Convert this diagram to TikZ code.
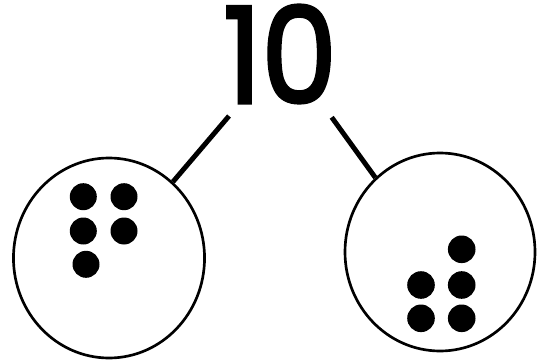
\documentclass[tikz,border=0pt]{standalone}
\usepackage{fontspec}
\setmainfont{Poppins}
\newfontfamily\numfont{Poppins}[FakeBold=2.5,FakeStretch=0.9]
\usetikzlibrary{shapes.geometric}

\begin{document}
\begin{tikzpicture}[x=0.75pt,y=-0.75pt,
  part/.style={draw,ellipse,line width=2pt,inner sep=0pt},
  bond/.style={line width=3.7pt},
  counter/.style={fill=black}]
\useasboundingbox (0,0) rectangle (538,363);
% whole number on top
\node[inner sep=0pt,font=\numfont\fontsize{100}{100}\selectfont] (whole) at (280,54) {10};
% the two parts
\node[part,minimum width=143.3pt,minimum height=150pt] (lpart) at (109,258) {};
\node[part,minimum width=142.5pt,minimum height=148.5pt] (rpart) at (440,252) {};
\coordinate (ltop) at (229,116);
\coordinate (rtop) at (331.7,117.3);
\draw[bond] (ltop) -- (lpart.50);
\draw[bond] (rtop) -- (rpart.131);
% counters
\foreach \p in {(83.3,196.7),(124,196.7),(83.3,231),(124,231),(86,264.3)}
  \fill[counter] \p circle[radius=13.5];
\foreach \p in {(461.7,249.3),(421,285),(461.7,285),(421,318.3),(461.7,318.3)}
  \fill[counter] \p circle[radius=13.8];
\end{tikzpicture}
\end{document}
